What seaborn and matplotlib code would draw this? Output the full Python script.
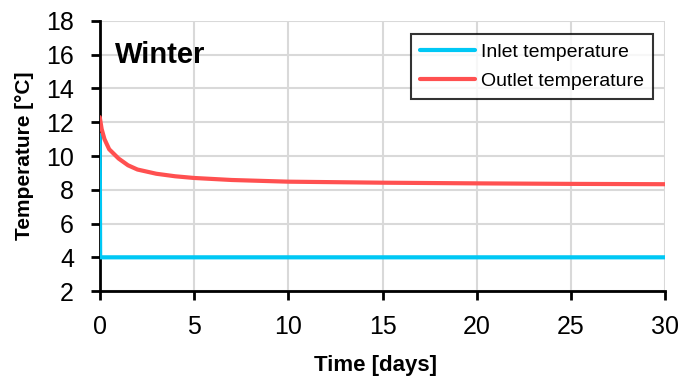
import matplotlib
matplotlib.use("Agg")
import matplotlib.pyplot as plt
import seaborn as sns
import pandas as pd

# Data
inlet_t = [0.0, 0.02, 30.0]
inlet_T = [11.25, 4.0, 4.0]
outlet_t = [0.0, 0.1, 0.25, 0.5, 1.0, 1.5, 2.0, 3.0, 4.0, 5.0, 7.0, 10.0, 15.0, 20.0, 25.0, 30.0]
outlet_T = [12.3, 11.6, 11.0, 10.4, 9.85, 9.45, 9.2, 8.95, 8.8, 8.7, 8.58, 8.48, 8.42, 8.38, 8.35, 8.33]
x_ticks = [0, 5, 10, 15, 20, 25, 30]
y_ticks = [2, 4, 6, 8, 10, 12, 14, 16, 18]

sns.set_style("white")
plt.rcParams['font.family'] = ['Liberation Sans', 'DejaVu Sans']
for k in ["text.color", "axes.labelcolor", "xtick.color", "ytick.color"]:
    plt.rcParams[k] = "black"

df_in = pd.DataFrame({"t": inlet_t, "T": inlet_T})
df_out = pd.DataFrame({"t": outlet_t, "T": outlet_T})

fig = plt.figure(figsize=(6.88, 3.81), dpi=100)
ax = fig.add_axes([0.145, 0.236, 0.822, 0.709])

sns.lineplot(data=df_in, x="t", y="T", ax=ax, color="#00C8F5", lw=3,
             label="Inlet temperature", zorder=3)
sns.lineplot(data=df_out, x="t", y="T", ax=ax, color="#FF5050", lw=3,
             label="Outlet temperature", zorder=4)

ax.set_xlim(0, 30)
ax.set_ylim(2, 18)
ax.set_xticks(x_ticks)
ax.set_yticks(y_ticks)
ax.grid(True, color="#D9D9D9", lw=1.5)
ax.set_axisbelow(True)
for s in ["top", "right"]:
    ax.spines[s].set_visible(False)
for s in ["left", "bottom"]:
    ax.spines[s].set_color("black")
    ax.spines[s].set_linewidth(2)
ax.tick_params(axis="both", direction="out", length=6.5, width=2, color="black",
               labelsize=18, left=True, bottom=True)
ax.tick_params(axis="x", pad=11)
ax.tick_params(axis="y", pad=12)

ax.set_xlabel("Time [days]", fontsize=16, fontweight="bold", labelpad=7)
ax.set_ylabel("Temperature [°C]", fontsize=15, fontweight="bold", labelpad=9)
ax.xaxis.set_label_coords(0.487, -0.235)

ax.text(0.027, 0.844, "Winter", transform=ax.transAxes, fontsize=21,
        fontweight="bold", va="baseline", ha="left")

leg = ax.legend(loc="upper right", bbox_to_anchor=(0.979, 0.952), fontsize=14,
                frameon=True, fancybox=False, edgecolor="black",
                handlelength=2.8, borderpad=0.5, labelspacing=0.55,
                handletextpad=0.3, borderaxespad=0)
leg.get_frame().set_linewidth(1.5)

fig.savefig("out.png", dpi=100)
